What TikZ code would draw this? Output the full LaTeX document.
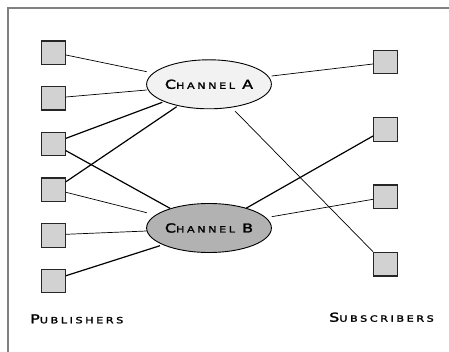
\documentclass[tikz,border=0pt]{standalone}
\usepackage{fontspec}
\usetikzlibrary{shapes.geometric,calc}
\newfontfamily\capfont[LetterSpace=30,FakeStretch=1.3,FakeBold=2]{DejaVu Sans}
\newcommand{\fsc}[2]{{\fontsize{12.3}{13}\selectfont #1}{\fontsize{8.6}{10}\selectfont #2}}
\begin{document}
\begin{tikzpicture}[x=1pt,y=-1pt,
  box/.style={draw=black!85, line width=1.2pt, fill=gray!35, minimum size=23.5pt, inner sep=0pt},
  chan/.style={ellipse, draw=black, line width=0.9pt, minimum width=121pt, minimum height=49pt, inner sep=0pt, font=\capfont},
  wire/.style={line width=0.7pt},
  wirebold/.style={line width=1.2pt},
  lbl/.style={font=\capfont, inner sep=0pt, anchor=base west}]
\useasboundingbox (0,0) rectangle (449,352);
\draw[gray, line width=1.2pt] (8,352) -- (8,8) -- (449,8);
% publishers
\node[box] (P1) at (53.5,52.7) {};
\node[box] (P2) at (53.5,98.3) {};
\node[box] (P3) at (53.5,144) {};
\node[box] (P4) at (53.5,189.8) {};
\node[box] (P5) at (53.5,235.5) {};
\node[box] (P6) at (53.5,281) {};
% subscribers
\node[box] (S1) at (385.5,62) {};
\node[box] (S2) at (385.5,129.5) {};
\node[box] (S3) at (385.5,196.8) {};
\node[box] (S4) at (385.5,264.2) {};
% channels
\node[chan, fill=gray!10] (A) at (209,84.3) {\fsc{C}{HANNEL} \fsc{A}{}};
\node[chan, fill=gray!60] (B) at (209,228) {\fsc{C}{HANNEL} \fsc{B}{}};
% connectors
\draw[wire] ($(P1.center)+(12.5,2.3)$) -- ($(A.center)+(-62.3,-12.6)$);
\draw[wire] ($(P2.center)+(12.5,-1.3)$) -- ($(A.center)+(-62.3,5.7)$);
\draw[wirebold] ($(P3.center)+(12.5,-5.7)$) -- ($(A.center)+(-46.7,18)$);
\draw[wirebold] ($(P4.center)+(12.5,-8.1)$) -- ($(A.center)+(-32.3,22.4)$);
\draw[wirebold] ($(P3.center)+(12.5,6.7)$) -- ($(B.center)+(-39,-19.7)$);
\draw[wire] ($(P4.center)+(12.5,2.5)$) -- ($(B.center)+(-62.3,-15.3)$);
\draw[wire] ($(P5.center)+(12.5,-1.2)$) -- ($(B.center)+(-62.3,3)$);
\draw[wirebold] ($(P6.center)+(12.5,-5.3)$) -- ($(B.center)+(-49,17.7)$);
\draw[wire] ($(A.center)+(62.7,-8.3)$) -- ($(S1.center)+(-12.5,2)$);
\draw[wire] ($(A.center)+(26,26.7)$) -- ($(S4.center)+(-12.5,-12.5)$);
\draw[wirebold] ($(B.center)+(37,-19.7)$) -- ($(S2.center)+(-12.5,6.5)$);
\draw[wire] ($(B.center)+(62.7,-11.3)$) -- ($(S3.center)+(-12.5,2.5)$);
% labels
\node[lbl] (PL) at (30,323.3) {\fsc{P}{UBLISHERS}};
\node[lbl] (SL) at (329,321.7) {\fsc{S}{UBSCRIBERS}};
\end{tikzpicture}
\end{document}
